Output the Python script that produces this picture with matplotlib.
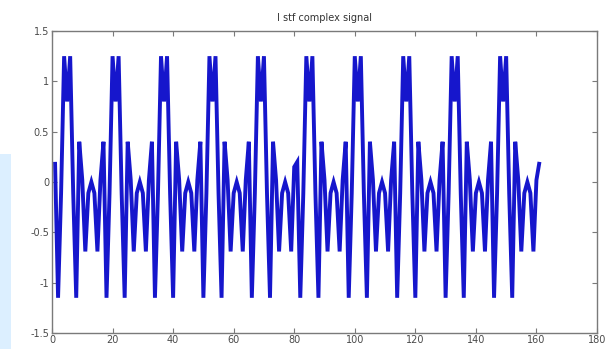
#!/usr/bin/env python3
# Real part of the short training field, MATLAB-style line plot.
import matplotlib
matplotlib.use("Agg")
import matplotlib.pyplot as plt
from matplotlib.patches import Rectangle

title = "I stf complex signal"

# sample index 1..161 (one row per 16-sample period)
samples = list(range(1, 162))
stf_real = [
    0.20, -1.15, -0.11, 1.25, 0.80, 1.25, -0.11, -1.15, 0.40, 0.02, -0.69, -0.11, 0.00, -0.11, -0.69, 0.02,
    0.40, -1.15, -0.11, 1.25, 0.80, 1.25, -0.11, -1.15, 0.40, 0.02, -0.69, -0.11, 0.00, -0.11, -0.69, 0.02,
    0.40, -1.15, -0.11, 1.25, 0.80, 1.25, -0.11, -1.15, 0.40, 0.02, -0.69, -0.11, 0.00, -0.11, -0.69, 0.02,
    0.40, -1.15, -0.11, 1.25, 0.80, 1.25, -0.11, -1.15, 0.40, 0.02, -0.69, -0.11, 0.00, -0.11, -0.69, 0.02,
    0.40, -1.15, -0.11, 1.25, 0.80, 1.25, -0.11, -1.15, 0.40, 0.02, -0.69, -0.11, 0.00, -0.11, -0.69, 0.15,
    0.20, -1.15, -0.11, 1.25, 0.80, 1.25, -0.11, -1.15, 0.40, 0.02, -0.69, -0.11, 0.00, -0.11, -0.69, 0.02,
    0.40, -1.15, -0.11, 1.25, 0.80, 1.25, -0.11, -1.15, 0.40, 0.02, -0.69, -0.11, 0.00, -0.11, -0.69, 0.02,
    0.40, -1.15, -0.11, 1.25, 0.80, 1.25, -0.11, -1.15, 0.40, 0.02, -0.69, -0.11, 0.00, -0.11, -0.69, 0.02,
    0.40, -1.15, -0.11, 1.25, 0.80, 1.25, -0.11, -1.15, 0.40, 0.02, -0.69, -0.11, 0.00, -0.11, -0.69, 0.02,
    0.40, -1.15, -0.11, 1.25, 0.80, 1.25, -0.11, -1.15, 0.40, 0.02, -0.69, -0.11, 0.00, -0.11, -0.69, 0.02,
    0.20,
]

x_ticks = [0, 20, 40, 60, 80, 100, 120, 140, 160, 180]
y_ticks = [-1.5, -1, -0.5, 0, 0.5, 1, 1.5]
y_tick_labels = ["-1.5", "-1", "-0.5", "0", "0.5", "1", "1.5"]

line_blue = "#1616cc"
axis_gray = "#7a7a7a"
label_gray = "#4a4a4a"


def plot():
    fig = plt.figure(figsize=(6.14, 3.49), dpi=100)
    ax = fig.add_axes([0.0847, 0.0458, 0.8876, 0.8653])

    # pale strip left over from the page the figure was cut from
    fig.patches.append(Rectangle((0, 0), 0.018, 0.56, transform=fig.transFigure,
                                 facecolor="#dcefff", edgecolor="none", zorder=0))

    ax.plot(samples, stf_real, color=line_blue, linewidth=2.8,
            solid_joinstyle="miter", solid_capstyle="butt")

    ax.set_xlim(0, 180)
    ax.set_ylim(-1.5, 1.5)
    ax.set_xticks(x_ticks)
    ax.set_yticks(y_ticks)
    ax.set_yticklabels(y_tick_labels)

    # MATLAB box: ticks inside on all four sides
    ax.tick_params(direction="in", length=3.5, width=0.8, colors=axis_gray,
                   labelcolor=label_gray, labelsize=7,
                   top=True, right=True)
    ax.tick_params(axis="x", pad=1.5)
    ax.tick_params(axis="y", pad=2)
    for spine in ax.spines.values():
        spine.set_color(axis_gray)
        spine.set_linewidth(1.0)

    ax.set_title(title, fontsize=7, color="#333333", pad=7)

    fig.savefig("out.png", dpi=100)
    plt.close(fig)


if __name__ == "__main__":
    plot()
